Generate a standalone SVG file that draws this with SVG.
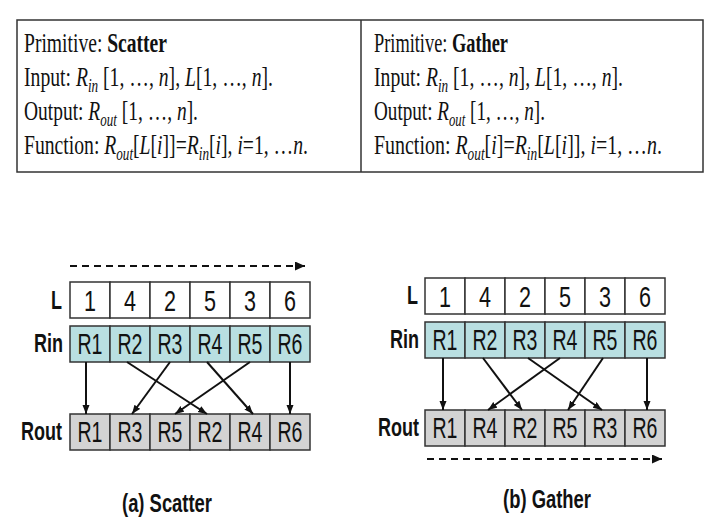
<svg xmlns="http://www.w3.org/2000/svg" width="720" height="531" viewBox="0 0 720 531">
<style>
.tbl{font-family:"Liberation Serif","Times New Roman",serif;font-size:27px;fill:#111}
.it{font-style:italic}
.sub{font-style:italic;font-size:18px}
.cellL{fill:#ffffff;stroke:#333;stroke-width:1.5}
.cellI{fill:#b9dfe1;stroke:#333;stroke-width:1.5}
.cellO{fill:#d3d3d3;stroke:#333;stroke-width:1.5}
.ct{font-family:"Liberation Sans",Arial,sans-serif;font-size:30px;fill:#111;text-anchor:middle}
.lab{font-family:"Liberation Sans",Arial,sans-serif;font-size:26px;font-weight:bold;fill:#111;text-anchor:end}
.cap{font-family:"Liberation Sans",Arial,sans-serif;font-size:26px;font-weight:bold;fill:#111}
.conn{stroke:#111;stroke-width:2;fill:none}
.dash{stroke:#111;stroke-width:2;fill:none;stroke-dasharray:7 5}
</style>
<defs>
<marker id="ah" markerUnits="userSpaceOnUse" markerWidth="10" markerHeight="8" refX="9" refY="3.5" orient="auto"><path d="M0,0 L9,3.5 L0,7 z" fill="#111"/></marker>
<marker id="ahd" markerUnits="userSpaceOnUse" markerWidth="11" markerHeight="10" refX="10" refY="4.5" orient="auto"><path d="M0,0 L10,4.5 L0,9 z" fill="#111"/></marker>
</defs>

<g id="table">
<rect x="17" y="20" width="686" height="152" fill="#fff" stroke="#333" stroke-width="1.5"/>
<line x1="361" y1="20" x2="361" y2="172" stroke="#333" stroke-width="1.5"/>
<text class="tbl" x="24" y="52" textLength="143" lengthAdjust="spacingAndGlyphs">Primitive: <tspan font-weight="bold">Scatter</tspan></text>
<text class="tbl" x="24" y="86" textLength="249" lengthAdjust="spacingAndGlyphs">Input: <tspan class="it">R</tspan><tspan class="sub" dy="6">in</tspan><tspan dy="-6"> [1, …, </tspan><tspan class="it">n</tspan>], <tspan class="it">L</tspan>[1, …, <tspan class="it">n</tspan>].</text>
<text class="tbl" x="24" y="120" textLength="174" lengthAdjust="spacingAndGlyphs">Output: <tspan class="it">R</tspan><tspan class="sub" dy="6">out</tspan><tspan dy="-6"> [1, …, </tspan><tspan class="it">n</tspan>].</text>
<text class="tbl" x="24" y="154" textLength="284" lengthAdjust="spacingAndGlyphs">Function: <tspan class="it">R</tspan><tspan class="sub" dy="6">out</tspan><tspan dy="-6">[</tspan><tspan class="it">L</tspan>[<tspan class="it">i</tspan>]]=<tspan class="it">R</tspan><tspan class="sub" dy="6">in</tspan><tspan dy="-6">[</tspan><tspan class="it">i</tspan>], <tspan class="it">i</tspan>=1, …<tspan class="it">n</tspan>.</text>
<text class="tbl" x="374" y="52" textLength="134" lengthAdjust="spacingAndGlyphs">Primitive: <tspan font-weight="bold">Gather</tspan></text>
<text class="tbl" x="374" y="86" textLength="249" lengthAdjust="spacingAndGlyphs">Input: <tspan class="it">R</tspan><tspan class="sub" dy="6">in</tspan><tspan dy="-6"> [1, …, </tspan><tspan class="it">n</tspan>], <tspan class="it">L</tspan>[1, …, <tspan class="it">n</tspan>].</text>
<text class="tbl" x="374" y="120" textLength="171" lengthAdjust="spacingAndGlyphs">Output: <tspan class="it">R</tspan><tspan class="sub" dy="6">out</tspan><tspan dy="-6"> [1, …, </tspan><tspan class="it">n</tspan>].</text>
<text class="tbl" x="374" y="154" textLength="288" lengthAdjust="spacingAndGlyphs">Function: <tspan class="it">R</tspan><tspan class="sub" dy="6">out</tspan><tspan dy="-6">[</tspan><tspan class="it">i</tspan>]=<tspan class="it">R</tspan><tspan class="sub" dy="6">in</tspan><tspan dy="-6">[</tspan><tspan class="it">L</tspan>[<tspan class="it">i</tspan>]], <tspan class="it">i</tspan>=1, …<tspan class="it">n</tspan>.</text>
</g>

<!-- Scatter -->
<g id="scatter-L">
<text class="lab" x="62" y="309" textLength="11" lengthAdjust="spacingAndGlyphs">L</text>
<rect class="cellL" x="70" y="282" width="40" height="36"/><rect class="cellL" x="110" y="282" width="40" height="36"/><rect class="cellL" x="150" y="282" width="40" height="36"/><rect class="cellL" x="190" y="282" width="40" height="36"/><rect class="cellL" x="230" y="282" width="40" height="36"/><rect class="cellL" x="270" y="282" width="40" height="36"/>
<text class="ct" x="90" y="311" textLength="12" lengthAdjust="spacingAndGlyphs">1</text><text class="ct" x="130" y="311" textLength="12" lengthAdjust="spacingAndGlyphs">4</text><text class="ct" x="170" y="311" textLength="12" lengthAdjust="spacingAndGlyphs">2</text><text class="ct" x="210" y="311" textLength="12" lengthAdjust="spacingAndGlyphs">5</text><text class="ct" x="250" y="311" textLength="12" lengthAdjust="spacingAndGlyphs">3</text><text class="ct" x="290" y="311" textLength="12" lengthAdjust="spacingAndGlyphs">6</text>
</g>
<g id="scatter-Rin">
<text class="lab" x="63" y="352" textLength="29" lengthAdjust="spacingAndGlyphs">Rin</text>
<rect class="cellI" x="70" y="326" width="40" height="36"/><rect class="cellI" x="110" y="326" width="40" height="36"/><rect class="cellI" x="150" y="326" width="40" height="36"/><rect class="cellI" x="190" y="326" width="40" height="36"/><rect class="cellI" x="230" y="326" width="40" height="36"/><rect class="cellI" x="270" y="326" width="40" height="36"/>
<text class="ct" x="90" y="354" textLength="25" lengthAdjust="spacingAndGlyphs">R1</text><text class="ct" x="130" y="354" textLength="25" lengthAdjust="spacingAndGlyphs">R2</text><text class="ct" x="170" y="354" textLength="25" lengthAdjust="spacingAndGlyphs">R3</text><text class="ct" x="210" y="354" textLength="25" lengthAdjust="spacingAndGlyphs">R4</text><text class="ct" x="250" y="354" textLength="25" lengthAdjust="spacingAndGlyphs">R5</text><text class="ct" x="290" y="354" textLength="25" lengthAdjust="spacingAndGlyphs">R6</text>
</g>
<g id="scatter-Rout">
<text class="lab" x="62" y="440" textLength="41" lengthAdjust="spacingAndGlyphs">Rout</text>
<rect class="cellO" x="70" y="414" width="40" height="36"/><rect class="cellO" x="110" y="414" width="40" height="36"/><rect class="cellO" x="150" y="414" width="40" height="36"/><rect class="cellO" x="190" y="414" width="40" height="36"/><rect class="cellO" x="230" y="414" width="40" height="36"/><rect class="cellO" x="270" y="414" width="40" height="36"/>
<text class="ct" x="90" y="442" textLength="25" lengthAdjust="spacingAndGlyphs">R1</text><text class="ct" x="130" y="442" textLength="25" lengthAdjust="spacingAndGlyphs">R3</text><text class="ct" x="170" y="442" textLength="25" lengthAdjust="spacingAndGlyphs">R5</text><text class="ct" x="210" y="442" textLength="25" lengthAdjust="spacingAndGlyphs">R2</text><text class="ct" x="250" y="442" textLength="25" lengthAdjust="spacingAndGlyphs">R4</text><text class="ct" x="290" y="442" textLength="25" lengthAdjust="spacingAndGlyphs">R6</text>
</g>
<text class="cap" x="122" y="512" textLength="90" lengthAdjust="spacingAndGlyphs">(a) Scatter</text>

<!-- Gather -->
<g id="gather-L">
<text class="lab" x="418" y="304" textLength="11" lengthAdjust="spacingAndGlyphs">L</text>
<rect class="cellL" x="425" y="278" width="40" height="36"/><rect class="cellL" x="465" y="278" width="40" height="36"/><rect class="cellL" x="505" y="278" width="40" height="36"/><rect class="cellL" x="545" y="278" width="40" height="36"/><rect class="cellL" x="585" y="278" width="40" height="36"/><rect class="cellL" x="625" y="278" width="40" height="36"/>
<text class="ct" x="445" y="307" textLength="12" lengthAdjust="spacingAndGlyphs">1</text><text class="ct" x="485" y="307" textLength="12" lengthAdjust="spacingAndGlyphs">4</text><text class="ct" x="525" y="307" textLength="12" lengthAdjust="spacingAndGlyphs">2</text><text class="ct" x="565" y="307" textLength="12" lengthAdjust="spacingAndGlyphs">5</text><text class="ct" x="605" y="307" textLength="12" lengthAdjust="spacingAndGlyphs">3</text><text class="ct" x="645" y="307" textLength="12" lengthAdjust="spacingAndGlyphs">6</text>
</g>
<g id="gather-Rin">
<text class="lab" x="419" y="348" textLength="29" lengthAdjust="spacingAndGlyphs">Rin</text>
<rect class="cellI" x="425" y="322" width="40" height="36"/><rect class="cellI" x="465" y="322" width="40" height="36"/><rect class="cellI" x="505" y="322" width="40" height="36"/><rect class="cellI" x="545" y="322" width="40" height="36"/><rect class="cellI" x="585" y="322" width="40" height="36"/><rect class="cellI" x="625" y="322" width="40" height="36"/>
<text class="ct" x="445" y="350" textLength="25" lengthAdjust="spacingAndGlyphs">R1</text><text class="ct" x="485" y="350" textLength="25" lengthAdjust="spacingAndGlyphs">R2</text><text class="ct" x="525" y="350" textLength="25" lengthAdjust="spacingAndGlyphs">R3</text><text class="ct" x="565" y="350" textLength="25" lengthAdjust="spacingAndGlyphs">R4</text><text class="ct" x="605" y="350" textLength="25" lengthAdjust="spacingAndGlyphs">R5</text><text class="ct" x="645" y="350" textLength="25" lengthAdjust="spacingAndGlyphs">R6</text>
</g>
<g id="gather-Rout">
<text class="lab" x="419" y="436" textLength="41" lengthAdjust="spacingAndGlyphs">Rout</text>
<rect class="cellO" x="425" y="410" width="40" height="36"/><rect class="cellO" x="465" y="410" width="40" height="36"/><rect class="cellO" x="505" y="410" width="40" height="36"/><rect class="cellO" x="545" y="410" width="40" height="36"/><rect class="cellO" x="585" y="410" width="40" height="36"/><rect class="cellO" x="625" y="410" width="40" height="36"/>
<text class="ct" x="445" y="438" textLength="25" lengthAdjust="spacingAndGlyphs">R1</text><text class="ct" x="485" y="438" textLength="25" lengthAdjust="spacingAndGlyphs">R4</text><text class="ct" x="525" y="438" textLength="25" lengthAdjust="spacingAndGlyphs">R2</text><text class="ct" x="565" y="438" textLength="25" lengthAdjust="spacingAndGlyphs">R5</text><text class="ct" x="605" y="438" textLength="25" lengthAdjust="spacingAndGlyphs">R3</text><text class="ct" x="645" y="438" textLength="25" lengthAdjust="spacingAndGlyphs">R6</text>
</g>
<text class="cap" x="503" y="508" textLength="88" lengthAdjust="spacingAndGlyphs">(b) Gather</text>

<g id="connectors">
<line class="dash" x1="70" y1="266" x2="305" y2="266" marker-end="url(#ahd)"/>
<line class="conn" x1="86" y1="362" x2="86" y2="414" marker-end="url(#ah)"/>
<line class="conn" x1="127" y1="362" x2="207" y2="414" marker-end="url(#ah)"/>
<line class="conn" x1="170" y1="362" x2="132" y2="414" marker-end="url(#ah)"/>
<line class="conn" x1="207" y1="362" x2="253" y2="414" marker-end="url(#ah)"/>
<line class="conn" x1="250" y1="362" x2="175" y2="414" marker-end="url(#ah)"/>
<line class="conn" x1="290" y1="362" x2="290" y2="414" marker-end="url(#ah)"/>

<line class="conn" x1="443" y1="358" x2="443" y2="410" marker-end="url(#ah)"/>
<line class="conn" x1="483" y1="358" x2="522" y2="410" marker-end="url(#ah)"/>
<line class="conn" x1="528" y1="358" x2="602" y2="410" marker-end="url(#ah)"/>
<line class="conn" x1="560" y1="358" x2="488" y2="410" marker-end="url(#ah)"/>
<line class="conn" x1="603" y1="358" x2="568" y2="410" marker-end="url(#ah)"/>
<line class="conn" x1="647" y1="358" x2="647" y2="410" marker-end="url(#ah)"/>
<line class="dash" x1="427" y1="459" x2="662" y2="459" marker-end="url(#ahd)"/>
</g>
</svg>
